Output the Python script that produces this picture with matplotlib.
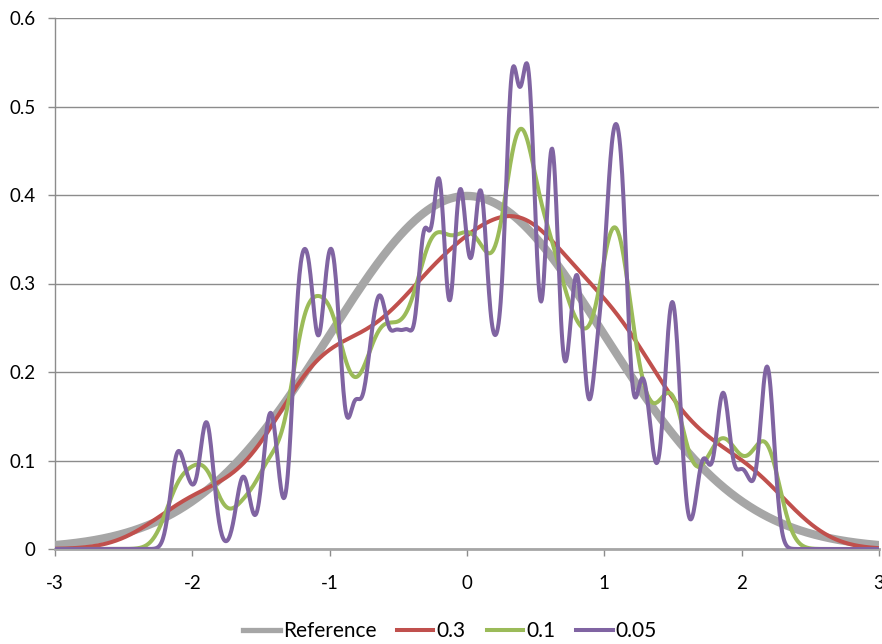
import numpy as np
import matplotlib
matplotlib.use("Agg")
from matplotlib import pyplot as plt
from matplotlib.lines import Line2D

# ================================================================
# 0. Data: sample locations (weighted)
# ================================================================
sample_x = [-2.111, -2.020, -1.897, -1.820, -1.650, -1.621, -1.452, -1.410,
            -1.228, -1.144, -1.025, -0.951, -0.820, -0.718, -0.656, -0.608,
            -0.518, -0.426, -0.314, -0.200, -0.070, -0.037, 0.030, 0.105,
            0.214, 0.325, 0.414, 0.460, 0.527, 0.620, 0.742, 0.812,
            0.950, 1.049, 1.131, 1.266, 1.330, 1.460, 1.514, 1.719,
            1.820, 1.869, 1.990, 2.064, 2.186]
sample_w = [0.0124, 0.0065, 0.0175, 0.0006, 0.0030, 0.0076, 0.0102, 0.0109,
            0.0296, 0.0307, 0.0283, 0.0273, 0.0180, 0.0159, 0.0151, 0.0193,
            0.0226, 0.0237, 0.0396, 0.0484, 0.0271, 0.0218, 0.0147, 0.0434,
            0.0215, 0.0587, 0.0273, 0.0423, 0.0073, 0.0545, 0.0148, 0.0319,
            0.0233, 0.0423, 0.0413, 0.0186, 0.0096, 0.0155, 0.0246, 0.0121,
            0.0033, 0.0195, 0.0084, 0.0056, 0.0256]

bandwidths = [0.3, 0.1, 0.05]
series_labels = ["Reference", "0.3", "0.1", "0.05"]
ref_mean, ref_sd = 0.0, 1.0

x_ticks = [-3, -2, -1, 0, 1, 2, 3]
y_ticks = [0, 0.1, 0.2, 0.3, 0.4, 0.5, 0.6]
y_tick_labels = ["0", "0.1", "0.2", "0.3", "0.4", "0.5", "0.6"]

COLORS = ["#a6a6a6", "#c0504d", "#9bbb59", "#8064a2"]


def gauss(x, mu, sd):
    return np.exp(-0.5 * ((x - mu) / sd) ** 2) / (sd * np.sqrt(2 * np.pi))


def kde(xs, centers, weights, h):
    c = np.asarray(centers)
    w = np.asarray(weights)
    w = w / w.sum()
    return (w[None, :] * gauss(xs[:, None], c[None, :], h)).sum(axis=1)


# ================================================================
# 1. Plot
# ================================================================
plt.rcParams["font.family"] = ["Lato", "DejaVu Sans"]
plt.rcParams["axes.unicode_minus"] = False

fig = plt.figure(figsize=(8.82, 6.44), dpi=100)
ax = fig.add_axes([55 / 882, 95 / 644, 824 / 882, 531 / 644])

xs = np.linspace(-3, 3, 1201)
ax.plot(xs, gauss(xs, ref_mean, ref_sd), color=COLORS[0], lw=6.0,
        solid_capstyle="butt", zorder=3)
for h, col in zip(bandwidths, COLORS[1:]):
    ax.plot(xs, kde(xs, sample_x, sample_w, h), color=col, lw=2.9,
            solid_capstyle="butt", zorder=4)

ax.set_xlim(-3, 3)
ax.set_ylim(0, 0.6)
ax.set_xticks(x_ticks)
ax.set_xticklabels([str(t) for t in x_ticks])
ax.set_yticks(y_ticks)
ax.set_yticklabels(y_tick_labels)

ax.yaxis.grid(True, color="#8c8c8c", lw=1.0)
ax.set_axisbelow(True)
for side in ("top", "right"):
    ax.spines[side].set_visible(False)
ax.spines["left"].set_color("#8c8c8c")
ax.spines["left"].set_linewidth(1.0)
ax.spines["bottom"].set_color("#a6a6a6")
ax.spines["bottom"].set_linewidth(2.0)
ax.tick_params(axis="x", length=5, width=1, color="#8c8c8c", pad=14, labelsize=13.5)
ax.tick_params(axis="y", length=5, width=1, color="#8c8c8c", pad=9, labelsize=13.5)
for lab in ax.get_xticklabels() + ax.get_yticklabels():
    lab.set_clip_on(False)

handles = [Line2D([], [], color=COLORS[0], lw=3.8),
           Line2D([], [], color=COLORS[1], lw=2.9),
           Line2D([], [], color=COLORS[2], lw=2.9),
           Line2D([], [], color=COLORS[3], lw=2.9)]
fig.legend(handles, series_labels, loc="center", bbox_to_anchor=(450 / 882, 1 - 631 / 644),
           ncol=4, frameon=False, fontsize=15, handlelength=1.75, handletextpad=0.15,
           columnspacing=1.0)

fig.savefig("out.png", dpi=100)
